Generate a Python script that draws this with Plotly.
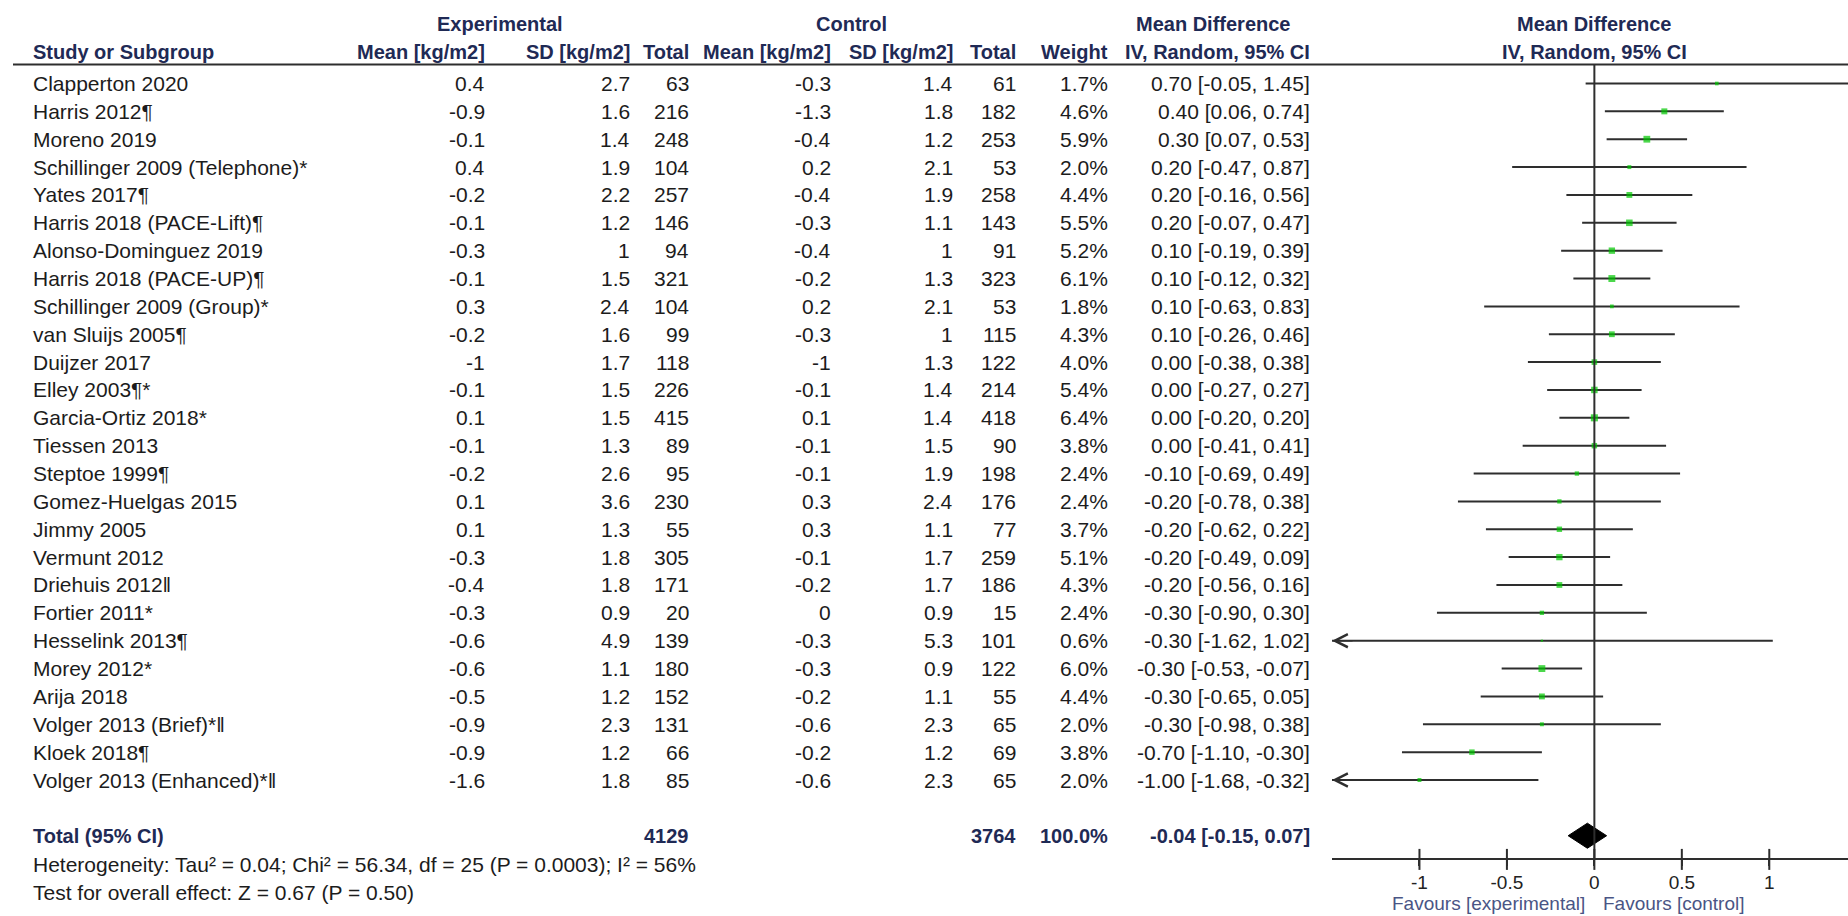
import plotly.graph_objects as go

# ---------------- data ----------------
studies = [
    "Clapperton 2020", "Harris 2012¶", "Moreno 2019", "Schillinger 2009 (Telephone)*",
    "Yates 2017¶", "Harris 2018 (PACE-Lift)¶", "Alonso-Dominguez 2019", "Harris 2018 (PACE-UP)¶",
    "Schillinger 2009 (Group)*", "van Sluijs 2005¶", "Duijzer 2017", "Elley 2003¶*",
    "Garcia-Ortiz 2018*", "Tiessen 2013", "Steptoe 1999¶", "Gomez-Huelgas 2015",
    "Jimmy 2005", "Vermunt 2012", "Driehuis 2012‖", "Fortier 2011*",
    "Hesselink 2013¶", "Morey 2012*", "Arija 2018", "Volger 2013 (Brief)*‖",
    "Kloek 2018¶", "Volger 2013 (Enhanced)*‖",
]
exp_mean = [0.4, -0.9, -0.1, 0.4, -0.2, -0.1, -0.3, -0.1, 0.3, -0.2, -1, -0.1, 0.1,
            -0.1, -0.2, 0.1, 0.1, -0.3, -0.4, -0.3, -0.6, -0.6, -0.5, -0.9, -0.9, -1.6]
exp_sd = [2.7, 1.6, 1.4, 1.9, 2.2, 1.2, 1, 1.5, 2.4, 1.6, 1.7, 1.5, 1.5,
          1.3, 2.6, 3.6, 1.3, 1.8, 1.8, 0.9, 4.9, 1.1, 1.2, 2.3, 1.2, 1.8]
exp_n = [63, 216, 248, 104, 257, 146, 94, 321, 104, 99, 118, 226, 415,
         89, 95, 230, 55, 305, 171, 20, 139, 180, 152, 131, 66, 85]
ctl_mean = [-0.3, -1.3, -0.4, 0.2, -0.4, -0.3, -0.4, -0.2, 0.2, -0.3, -1, -0.1, 0.1,
            -0.1, -0.1, 0.3, 0.3, -0.1, -0.2, 0, -0.3, -0.3, -0.2, -0.6, -0.2, -0.6]
ctl_sd = [1.4, 1.8, 1.2, 2.1, 1.9, 1.1, 1, 1.3, 2.1, 1, 1.3, 1.4, 1.4,
          1.5, 1.9, 2.4, 1.1, 1.7, 1.7, 0.9, 5.3, 0.9, 1.1, 2.3, 1.2, 2.3]
ctl_n = [61, 182, 253, 53, 258, 143, 91, 323, 53, 115, 122, 214, 418,
         90, 198, 176, 77, 259, 186, 15, 101, 122, 55, 65, 69, 65]
weight = [1.7, 4.6, 5.9, 2.0, 4.4, 5.5, 5.2, 6.1, 1.8, 4.3, 4.0, 5.4, 6.4,
          3.8, 2.4, 2.4, 3.7, 5.1, 4.3, 2.4, 0.6, 6.0, 4.4, 2.0, 3.8, 2.0]
md = [0.70, 0.40, 0.30, 0.20, 0.20, 0.20, 0.10, 0.10, 0.10, 0.10, 0.00, 0.00, 0.00,
      0.00, -0.10, -0.20, -0.20, -0.20, -0.20, -0.30, -0.30, -0.30, -0.30, -0.30, -0.70, -1.00]
ci_lo = [-0.05, 0.06, 0.07, -0.47, -0.16, -0.07, -0.19, -0.12, -0.63, -0.26, -0.38, -0.27, -0.20,
         -0.41, -0.69, -0.78, -0.62, -0.49, -0.56, -0.90, -1.62, -0.53, -0.65, -0.98, -1.10, -1.68]
ci_hi = [1.45, 0.74, 0.53, 0.87, 0.56, 0.47, 0.39, 0.32, 0.83, 0.46, 0.38, 0.27, 0.20,
         0.41, 0.49, 0.38, 0.22, 0.09, 0.16, 0.30, 1.02, -0.07, 0.05, 0.38, -0.30, -0.32]
total_md, total_lo, total_hi = -0.04, -0.15, 0.07
total_weight_text = "100.0%"
heterogeneity = "Heterogeneity: Tau² = 0.04; Chi² = 56.34, df = 25 (P = 0.0003); I² = 56%"
overall = "Test for overall effect: Z = 0.67 (P = 0.50)"
tick_vals = [-1, -0.5, 0, 0.5, 1]
tick_text = ["-1", "-0.5", "0", "0.5", "1"]
x_range = [-1.5, 1.45]

# ---------------- layout constants ----------------
W, H = 1848, 916
ROW0_PX, ROW_PX = 83.5, 27.86
y_top = -ROW0_PX / ROW_PX
y_bot = (H - ROW0_PX) / ROW_PX
n = len(studies)
total_row = n + 1
axis_row = 27.85
rule_row = -0.68
hdr1_row, hdr2_row = -2.15, -1.12
het_row, test_row = 28.05, 29.02
fav_bottom_row = (H - 1.5 - ROW0_PX) / ROW_PX

FONT = "Liberation Sans, Arial, sans-serif"
FS = 21
FSB = 20
TXT = "#1c1c1c"
HDR = "#1f2a55"
FAV = "#4a5585"
LINE = "#2e2e2e"
GREEN = "#00c800"

col_study = 31
col_exp_mean, col_exp_sd, col_exp_n = 487, 632, 691
col_ctl_mean, col_ctl_sd, col_ctl_n = 833, 955, 1018
col_weight, col_ci = 1110, 1312
exp_hdr_c, ctl_hdr_c, md_hdr_c = 500, 851, 1213
plot_left_px = 1332

fig = go.Figure()
ann = []


def txt(x, y, s, anchor="right", bold=False, color=TXT, xref="x", size=None):
    if size is None:
        size = FSB if bold else FS
    ann.append(dict(x=x, y=y, xref=xref, yref="y", text=(f"<b>{s}</b>" if bold else s),
                    showarrow=False, xanchor=anchor, yanchor="middle",
                    font=dict(family=FONT, size=size, color=color)))


def g(v):
    return f"{v:g}"


# headers
txt(exp_hdr_c, hdr1_row, "Experimental", "center", True, HDR)
txt(ctl_hdr_c, hdr1_row, "Control", "center", True, HDR)
txt(md_hdr_c, hdr1_row, "Mean Difference", "center", True, HDR)
txt(0, hdr1_row, "Mean Difference", "center", True, HDR, xref="x2")
txt(0, hdr2_row, "IV, Random, 95% CI", "center", True, HDR, xref="x2")
txt(col_study, hdr2_row, "Study or Subgroup", "left", True, HDR)
for cx, s in [(col_exp_mean, "Mean [kg/m2]"), (col_exp_sd, "SD [kg/m2]"), (col_exp_n, "Total"),
              (col_ctl_mean, "Mean [kg/m2]"), (col_ctl_sd, "SD [kg/m2]"), (col_ctl_n, "Total"),
              (col_weight, "Weight"), (col_ci, "IV, Random, 95% CI")]:
    txt(cx, hdr2_row, s, "right", True, HDR)

# study rows
for i in range(n):
    txt(col_study, i, studies[i], "left")
    txt(col_exp_mean, i, g(exp_mean[i]))
    txt(col_exp_sd, i, g(exp_sd[i]))
    txt(col_exp_n, i, str(exp_n[i]))
    txt(col_ctl_mean, i, g(ctl_mean[i]))
    txt(col_ctl_sd, i, g(ctl_sd[i]))
    txt(col_ctl_n, i, str(ctl_n[i]))
    txt(col_weight, i, f"{weight[i]:.1f}%")
    txt(col_ci, i, f"{md[i]:.2f} [{ci_lo[i]:.2f}, {ci_hi[i]:.2f}]")

# total row
txt(col_study, total_row, "Total (95% CI)", "left", True, HDR)
txt(col_exp_n, total_row, str(sum(exp_n)), "right", True, HDR)
txt(col_ctl_n, total_row, str(sum(ctl_n)), "right", True, HDR)
txt(col_weight, total_row, total_weight_text, "right", True, HDR)
txt(col_ci, total_row, f"{total_md:.2f} [{total_lo:.2f}, {total_hi:.2f}]", "right", True, HDR)
txt(col_study, het_row, heterogeneity, "left")
txt(col_study, test_row, overall, "left")

# favours labels
for s, anchor, shift in [("Favours [experimental]", "right", -8), ("Favours [control]", "left", 8)]:
    ann.append(dict(x=0, y=fav_bottom_row, xref="x2", yref="y", text=s, showarrow=False,
                    xanchor=anchor, yanchor="bottom", xshift=shift, borderpad=0,
                    font=dict(family=FONT, size=19, color=FAV)))

# arrows for clipped CIs
for i in range(n):
    if ci_lo[i] < x_range[0]:
        ann.append(dict(x=x_range[0], y=i, xref="x2", yref="y", ax=22, ay=0, text="",
                        showarrow=True, arrowhead=5, arrowsize=1.6, arrowwidth=1.6, arrowcolor=LINE,
                        standoff=0))

# CI lines
lx, ly = [], []
for i in range(n):
    lx += [ci_lo[i], ci_hi[i], None]
    ly += [i, i, None]
fig.add_trace(go.Scatter(x=lx, y=ly, xaxis="x2", yaxis="y", mode="lines",
                         line=dict(color=LINE, width=2), hoverinfo="skip", showlegend=False))
# point estimates
fig.add_trace(go.Scatter(x=md, y=list(range(n)), xaxis="x2", yaxis="y", mode="markers",
                         marker=dict(symbol="square", color=GREEN,
                                     size=[2.8 * w ** 0.5 for w in weight], line=dict(width=0)),
                         showlegend=False))
# diamond
dh = 0.45
fig.add_trace(go.Scatter(x=[total_lo, total_md, total_hi, total_md, total_lo],
                         y=[total_row, total_row - dh, total_row, total_row + dh, total_row],
                         xaxis="x2", yaxis="y", mode="lines", fill="toself", fillcolor="black",
                         line=dict(color="black", width=1), showlegend=False))
# tick marks crossing the axis
fig.add_trace(go.Scatter(x=tick_vals, y=[axis_row] * len(tick_vals), xaxis="x2", yaxis="y",
                         mode="markers", marker=dict(symbol="line-ns", size=15,
                                                     line=dict(color=LINE, width=2)),
                         showlegend=False, cliponaxis=False))

axis_pos = (y_bot - axis_row) / (y_bot - y_top)

fig.update_layout(
    width=W, height=H, margin=dict(l=0, r=0, t=0, b=0),
    paper_bgcolor="white", plot_bgcolor="rgba(0,0,0,0)",
    xaxis=dict(range=[0, W], domain=[0, 1], visible=False, fixedrange=True),
    yaxis=dict(range=[y_bot, y_top], domain=[0, 1], visible=False, fixedrange=True),
    xaxis2=dict(range=x_range, domain=[plot_left_px / W, 1], anchor="free", position=axis_pos,
                showline=True, linecolor=LINE, linewidth=2, showgrid=False, zeroline=False,
                tickvals=tick_vals, ticktext=tick_text, ticks="outside", ticklen=6,
                tickwidth=2, tickcolor=LINE, tickfont=dict(family=FONT, size=19, color="#222"),
                fixedrange=True),
    annotations=ann,
    shapes=[
        dict(type="line", xref="x", yref="y", x0=13, x1=W, y0=rule_row, y1=rule_row,
             line=dict(color=LINE, width=2)),
        dict(type="line", xref="x2", yref="y", x0=0, x1=0, y0=rule_row, y1=axis_row,
             line=dict(color=LINE, width=2)),
    ],
    showlegend=False,
)

fig.write_html(
    "out.html",
    config={"displayModeBar": False},
    post_script="document.body.style.margin='0px';document.body.style.overflow='hidden';",
)
